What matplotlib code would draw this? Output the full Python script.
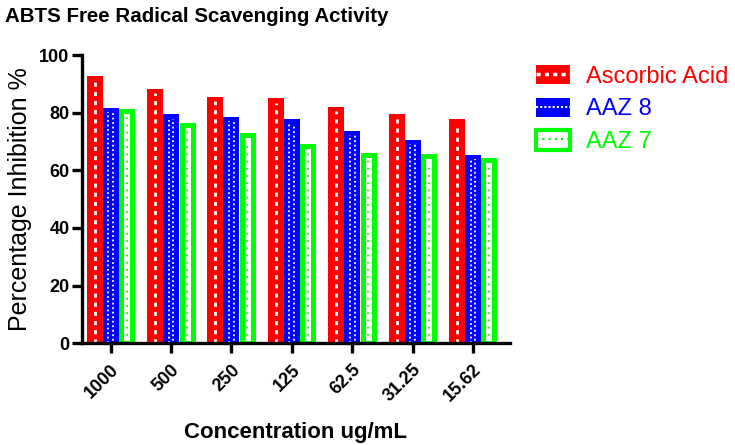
import matplotlib
matplotlib.use("Agg")
import matplotlib.pyplot as plt
import numpy as np
from matplotlib.patches import Patch
from matplotlib.lines import Line2D

plt.rcParams["font.family"] = ["Liberation Sans", "DejaVu Sans"]

# data
concentrations = ["1000", "500", "250", "125", "62.5", "31.25", "15.62"]
ascorbic_acid = [92.7, 88.4, 85.5, 85.0, 82.0, 79.5, 77.9]
aaz8 = [81.7, 79.5, 78.6, 77.7, 73.8, 70.5, 65.5]
aaz7 = [80.6, 75.6, 72.2, 68.5, 65.5, 65.0, 63.6]

RED = "#ff0000"
BLUE = "#0000ff"
GREEN = "#00ff00"

fig = plt.figure(figsize=(7.35, 4.45), dpi=100)
ax = fig.add_axes([0.1116, 0.229, 0.582, 0.647])

x = np.arange(len(concentrations))
w = 0.265

# Ascorbic acid: solid red with white dashed centre line
ax.bar(x - w, ascorbic_acid, width=w, color=RED, linewidth=0)
ax.vlines(x - w, 0, np.array(ascorbic_acid) - 1.5, colors="white",
          linewidth=2, linestyles=(0, (1.5, 1.8)))

# AAZ 8: solid blue with white dotted columns
ax.bar(x, aaz8, width=w, color=BLUE, linewidth=0)
ax.vlines(x - 0.04, 0, np.array(aaz8) - 1.5, colors="white",
          linewidth=1.3, linestyles=(0, (1, 1.5)))
ax.vlines(x + 0.04, 0, np.array(aaz8) - 1.5, colors="white",
          linewidth=1.3, linestyles=(1.2, (1, 1.5)))

# AAZ 7: green outline, white inside, green dotted centre line
ax.bar(x + w, aaz7, width=w * 0.69, facecolor="white", edgecolor=GREEN,
       linewidth=3.6)
ax.vlines(x + w, 0, np.array(aaz7) - 2, colors=GREEN,
          linewidth=1.3, linestyles=(0, (1, 3)))

ax.set_xlim(-0.475, 6.61)
ax.set_ylim(0, 100)
ax.set_yticks(np.arange(0, 101, 20))
ax.set_xticks(x)
ax.set_xticklabels(concentrations, rotation=45, ha="right",
                   rotation_mode="anchor", fontsize=13, fontweight="bold")
for lab in ax.get_yticklabels():
    lab.set_fontsize(13)
    lab.set_fontweight("bold")

for side in ("top", "right"):
    ax.spines[side].set_visible(False)
for side in ("left", "bottom"):
    ax.spines[side].set_linewidth(2.4)
ax.tick_params(axis="both", width=2.4, length=7, pad=2)
ax.tick_params(axis="x", pad=6)

ax.set_ylabel("Percentage Inhibition %", fontsize=18, labelpad=5)
ax.set_xlabel("Concentration ug/mL", fontsize=16, fontweight="bold",
              labelpad=12)
fig.text(0.007, 0.985, "ABTS Free Radical Scavenging Activity",
         fontsize=14.8, fontweight="bold", ha="left", va="top")

handles = [
    (Patch(facecolor=RED, linewidth=0),
     Line2D([], [], color="white", linewidth=2.5, linestyle=(0, (1.2, 1.2)))),
    (Patch(facecolor=BLUE, linewidth=0),
     Line2D([], [], color="white", linewidth=1.5, linestyle=(0, (1, 1)))),
    (Patch(facecolor="white", edgecolor=GREEN, linewidth=3),
     Line2D([], [], color=GREEN, linewidth=1.5, linestyle=(0, (1, 2)))),
]
labels = ["Ascorbic Acid", "AAZ 8", "AAZ 7"]
leg = fig.legend(handles, labels, loc="upper left",
                 bbox_to_anchor=(0.716, 0.875), frameon=False, fontsize=17,
                 handlelength=1.44, handleheight=0.87, handletextpad=0.68,
                 labelspacing=0.42, borderaxespad=0)
for txt, col in zip(leg.get_texts(), [RED, BLUE, GREEN]):
    txt.set_color(col)

fig.savefig("out.png", dpi=100)
